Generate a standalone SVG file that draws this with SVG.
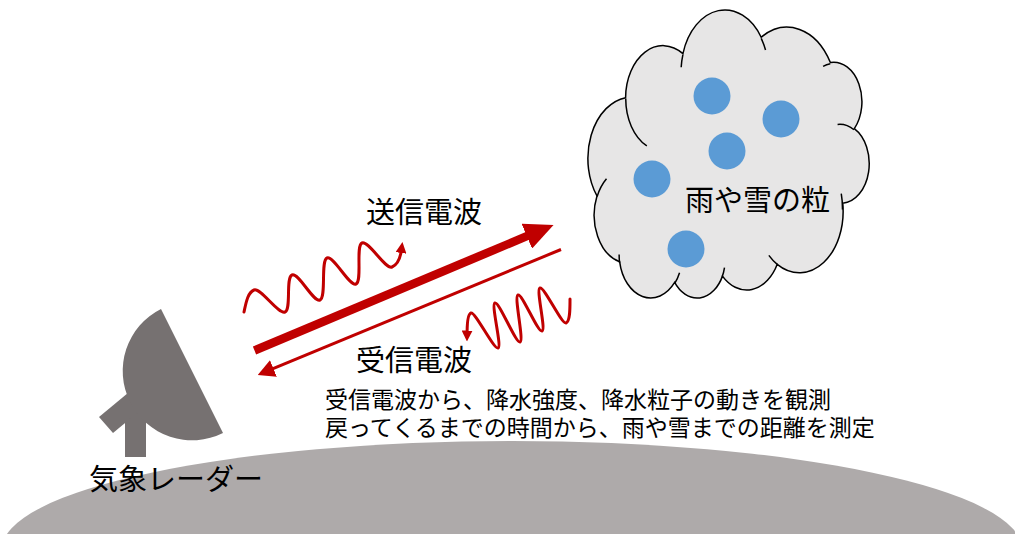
<svg xmlns="http://www.w3.org/2000/svg" width="1015" height="534" viewBox="0 0 1015 534">
  <style>
    .txt { font-family: "Noto Sans CJK JP", "Noto Sans", sans-serif; fill: #000; }
    .lbl { font-size: 29px; }
    .body { font-size: 23px; }
    .red { stroke: #C00000; fill: none; }
    .wave { stroke-width: 3; stroke-linecap: round; stroke-linejoin: round; }
    .gray { fill: #767171; }
    .drop { fill: #5B9BD5; }
    .cloud { fill: #E7E6E6; stroke: #000; stroke-width: 1.5; }
    .cloud-inner { fill: none; stroke: #000; stroke-width: 1.5; }
  </style>
  <defs>
    <marker id="head-lg" markerUnits="userSpaceOnUse" viewBox="0 0 29 27" markerWidth="29" markerHeight="27" refX="9" refY="13.5" orient="auto">
      <path d="M0,0 L29,13.5 L0,27 Z" fill="#C00000"/>
    </marker>
    <marker id="head-md" markerUnits="userSpaceOnUse" viewBox="0 0 17 18" markerWidth="17" markerHeight="18" refX="5" refY="9" orient="auto">
      <path d="M0,0 L17,9 L0,18 Z" fill="#C00000"/>
    </marker>
    <marker id="head-sm" markerUnits="userSpaceOnUse" viewBox="0 0 11 11" markerWidth="11" markerHeight="11" refX="3" refY="5.5" orient="auto">
      <path d="M0,0 L11,5.5 L0,11 Z" fill="#C00000"/>
    </marker>
  </defs>

  <!-- ground -->
  <g id="ground">
    <ellipse cx="512" cy="549" rx="510" ry="108" fill="#AEAAAA"/>
  </g>

  <!-- weather radar: mast, arm and dish -->
  <g id="radar">
    <rect class="gray" x="125" y="400" width="21" height="57"/>
    <polygon class="gray" points="99,417 140,383 154,399 113,433"/>
    <path class="gray" d="M161,309 A69.3,69.3 0 0 0 223,433 Z"/>
    <text class="txt lbl" x="89" y="490">気象レーダー</text>
  </g>

  <!-- cloud (preset cloud outline in 43200 units, turned half a revolution) -->
  <g id="cloud">
    <g transform="translate(868,299) scale(-0.006481,-0.006667)">
      <path class="cloud" vector-effect="non-scaling-stroke" d="M3900,14370 A6753,9190 0 0 1 14004,5201 A5333,7267 0 0 1 22455,3431 A4365,5945 0 0 1 29832,2481 A4857,6595 0 0 1 38317,5576 A5333,7273 0 0 1 41818,15459 A6775,9220 0 0 1 37403,30202 A5785,7867 0 0 1 28554,36812 A6752,9215 0 0 1 16479,39264 A7720,10543 0 0 1 5803,35470 A4360,5918 0 0 1 2112,25550 A4345,5945 0 0 1 3900,14370 Z"/>
      <path class="cloud-inner" vector-effect="non-scaling-stroke" d="M4693,26177 A4345,5945 0 0 1 2160,25380 M6928,34899 A4360,5918 0 0 1 5819,35280 M16478,39090 A6752,9215 0 0 1 15810,37349 M28827,34751 A6752,9215 0 0 1 28560,36660 M34129,22954 A5785,7867 0 0 1 37381,30090 M41798,15354 A5333,7273 0 0 1 40349,18030 M38324,5426 A4857,6595 0 0 1 38400,6690 M29078,3952 A4857,6595 0 0 1 29820,2340 M22141,4720 A4365,5945 0 0 1 22500,3331 M14000,5192 A6753,9190 0 0 1 15300,6542 M4127,15789 A6753,9190 0 0 1 3946,13419"/>
    </g>
  </g>

  <!-- rain and snow particles -->
  <g id="particles">
    <circle class="drop" cx="712" cy="96" r="18.5"/>
    <circle class="drop" cx="781" cy="119" r="18.5"/>
    <circle class="drop" cx="727" cy="151" r="18.5"/>
    <circle class="drop" cx="652" cy="179" r="18.5"/>
    <circle class="drop" cx="686" cy="249" r="18.5"/>
    <text class="txt lbl" x="685" y="211">雨や雪の粒</text>
  </g>

  <!-- transmitted / received beams and waves -->
  <g id="connectors">
    <line class="red" x1="254.5" y1="350.5" x2="535.1" y2="232.7" stroke-width="8.5" marker-end="url(#head-lg)"/>
    <line class="red" x1="561" y1="249.5" x2="268.8" y2="370.4" stroke-width="3" marker-end="url(#head-md)"/>
    <path class="red wave" marker-end="url(#head-sm)" d="M244,312 C246,303 247.5,292.8 254,290 C260.5,287.2 278.5,314.8 285,312 C291.5,309.2 285.5,277.8 292,275 C298.5,272.2 313.5,302.8 320,300 C326.5,297.2 320.5,260.8 327,258 C333.5,255.2 349.5,286.8 356,284 C362.5,281.2 355.5,245.8 362,243 C368.5,240.2 385.5,269.8 392,267 C398.5,264.2 400.8,254.5 401.4,250"/>
    <path class="red wave" marker-end="url(#head-sm)" d="M570,299 C570,308 570.2,321.5 566,323 C561.8,324.5 544.2,286.5 540,288 C535.8,289.5 546.2,329.5 542,331 C537.8,332.5 522.2,293.5 518,295 C513.8,296.5 524.2,340.5 520,342 C515.8,343.5 499.2,301.5 495,303 C490.8,304.5 502.2,346.5 498,348 C493.8,349.5 475.2,311.5 471,313 C466.8,314.5 467.2,328 467.1,333.5"/>
  </g>

  <!-- captions -->
  <g id="labels">
    <text class="txt lbl" x="366" y="223">送信電波</text>
    <text class="txt lbl" x="356" y="371">受信電波</text>
    <text class="txt body" x="325" y="408">受信電波から、降水強度、降水粒子の動きを観測</text>
    <text class="txt body" x="325" y="436">戻ってくるまでの時間から、雨や雪までの距離を測定</text>
  </g>
</svg>
